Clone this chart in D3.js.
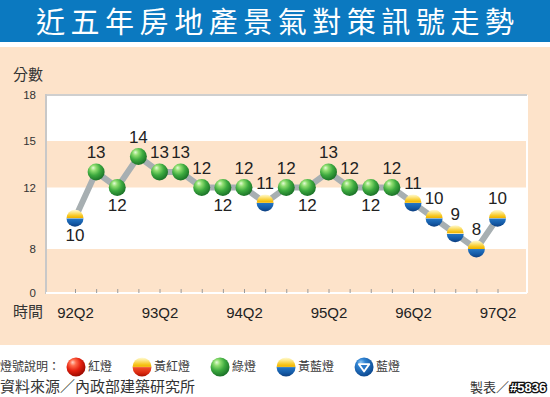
<!DOCTYPE html>
<html><head><meta charset="utf-8">
<script src="https://cdn.jsdelivr.net/npm/d3@7"></script>
<style>
html,body{margin:0;padding:0;background:#fff;}
svg{display:block;}
</style></head>
<body>
<script>
// ---- data ----
const title = '近五年房地產景氣對策訊號走勢';
const quarters = ['92Q2','92Q3','92Q4','93Q1','93Q2','93Q3','93Q4','94Q1','94Q2','94Q3','94Q4',
                  '95Q1','95Q2','95Q3','95Q4','96Q1','96Q2','96Q3','96Q4','97Q1','97Q2'];
const scores  = [10,13,12,14,13,13,12,12,12,11,12,12,13,12,12,12,11,10,9,8,10];
const signals = ['yb','g','g','g','g','g','g','g','g','yb','g','g','g','g','g','g','yb','yb','yb','yb','yb'];
const labelSide = ['below','above','below','above','above','above','above','below','above','above','above',
                   'below','above','above','below','above','above','above','above','above','above'];
const yTicks = [0,8,12,15,18];
const xLabelQuarters = ['92Q2','93Q2','94Q2','95Q2','96Q2','97Q2'];
const shadedBands = [[12,15],[0,8]];
const legendNames = ['紅燈','黃紅燈','綠燈','黃藍燈','藍燈'];
const legendTypes = ['r','yr','g','yb','b'];

const W = 550, H = 397;
const CJK = '"Noto Sans CJK TC","Noto Sans CJK SC",sans-serif';
const LAT = '"Liberation Sans",Arial,sans-serif';

const svg = d3.select('body').append('svg').attr('width', W).attr('height', H);
const defs = svg.append('defs');

function radial(id, stops){
  const g = defs.append('radialGradient').attr('id', id).attr('cx','40%').attr('cy','35%').attr('r','65%').attr('fx','32%').attr('fy','25%');
  stops.forEach(s => g.append('stop').attr('offset', s[0]).attr('stop-color', s[1]));
}
function linear(id, stops){
  const g = defs.append('linearGradient').attr('id', id).attr('x1',0).attr('y1',0).attr('x2',0).attr('y2',1);
  stops.forEach(s => g.append('stop').attr('offset', s[0]).attr('stop-color', s[1]));
}
radial('gG', [[0,'#e6fbd8'],[0.25,'#8fde70'],[0.6,'#3daa3f'],[1,'#1b7328']]);
radial('gR', [[0,'#ffd2c4'],[0.25,'#ff6a4a'],[0.6,'#e4200f'],[1,'#9c0a00']]);
radial('gB', [[0,'#8cc4f2'],[0.35,'#2e82d2'],[1,'#0d4a92']]);
linear('gYB', [[0,'#fffbd8'],[0.15,'#fde88a'],[0.35,'#f7c824'],[0.47,'#f1b400'],[0.5,'#fff4cc'],[0.53,'#2475c4'],[0.8,'#145aa6'],[1,'#0e3f80']]);
linear('gYR', [[0,'#fffbd8'],[0.15,'#fde88a'],[0.35,'#f7c824'],[0.47,'#f1b400'],[0.5,'#fff0cc'],[0.53,'#f0502a'],[0.8,'#dc2a10'],[1,'#a81200']]);
const fillOf = {g:'url(#gG)', r:'url(#gR)', b:'url(#gB)', yb:'url(#gYB)', yr:'url(#gYR)'};

function ball(sel, type, r){
  sel.append('circle').attr('r', r).attr('fill', fillOf[type]);
  if (type === 'b') {
    const t = r*0.55;
    sel.append('path').attr('d', `M${-t},${-t*0.55}L${t},${-t*0.55}L0,${t*0.85}Z`)
      .attr('fill','#2a78c8').attr('stroke','#fff').attr('stroke-width',1.8).attr('stroke-linejoin','round');
  }
}

// ---- background ----
svg.append('rect').attr('x',0).attr('y',0).attr('width',W).attr('height',42).attr('fill','#0b79c0');
svg.append('rect').attr('x',0).attr('y',47).attr('width',W).attr('height',298).attr('fill','#fde3ca');

svg.append('text').attr('x',36).attr('y',33).attr('fill','#fff')
  .attr('textLength',478).attr('lengthAdjust','spacing')
  .style('font-family',CJK).style('font-size','29px')
  .text(title);

// ---- scales ----
const x = d3.scalePoint().domain(quarters).range([75, 497.5]);
const y = d3.scaleLinear().domain([0,8,12,15,18]).range([293,249,187.5,141,95]);
const plotL = 46, plotR = 527;

// plot area
svg.append('rect').attr('x',plotL).attr('y',y(18)).attr('width',plotR-plotL).attr('height',y(0)-y(18)).attr('fill','#fff');
svg.selectAll('rect.band').data(shadedBands).join('rect').attr('class','band')
  .attr('x',plotL).attr('width',plotR-plotL)
  .attr('y',d=>y(d[1])).attr('height',d=>y(d[0])-y(d[1])).attr('fill','#fde3ca');
svg.append('line').attr('x1',plotR).attr('x2',plotR).attr('y1',y(18)).attr('y2',y(0)).attr('stroke','#fff').attr('stroke-width',2);
svg.append('line').attr('x1',plotL).attr('x2',plotR).attr('y1',y(18)).attr('y2',y(18)).attr('stroke','#cfcfcf').attr('stroke-width',2);
svg.append('line').attr('x1',plotL).attr('x2',plotL).attr('y1',y(18)-1).attr('y2',y(0)+1).attr('stroke','#c8c8c8').attr('stroke-width',2);

// y axis
const ya = svg.append('g').attr('transform',`translate(${plotL-1},0)`)
  .call(d3.axisLeft(y).tickValues(yTicks).tickSize(0).tickPadding(9).tickFormat(d3.format('d')));
ya.select('.domain').remove();
ya.selectAll('text').style('font-family',LAT).style('font-size','11.5px').attr('fill','#333');

// x axis
const xa = svg.append('g').attr('transform',`translate(0,${y(0)})`)
  .call(d3.axisBottom(x).tickSize(-4).tickPadding(14).tickFormat(d => xLabelQuarters.includes(d) ? d : ''));
xa.select('.domain').attr('d',`M${plotL},0H${plotR}`).attr('stroke','#fff').attr('stroke-width',2);
xa.selectAll('.tick line').attr('stroke','#9a9a9a');
xa.selectAll('text').style('font-family',LAT).style('font-size','15px').attr('fill','#222');

// axis titles
svg.append('text').attr('x',13).attr('y',80).style('font-family',CJK).style('font-size','15px').attr('fill','#333').text('分數');
svg.append('text').attr('x',13).attr('y',317).style('font-family',CJK).style('font-size','15px').attr('fill','#333').text('時間');

// line
const pts = quarters.map((q,i)=>({q, v:scores[i], s:signals[i], side:labelSide[i]}));
svg.append('path').datum(pts)
  .attr('d', d3.line().x(d=>x(d.q)).y(d=>y(d.v)))
  .attr('fill','none').attr('stroke','#a7afb2').attr('stroke-width',6).attr('stroke-linejoin','round');

// balls
svg.selectAll('g.pt').data(pts).join('g').attr('class','pt')
  .attr('transform', d=>`translate(${x(d.q)},${y(d.v)})`)
  .each(function(d){ ball(d3.select(this), d.s, 8.5); });

// value labels
svg.selectAll('text.val').data(pts).join('text').attr('class','val')
  .attr('x', d=>x(d.q))
  .attr('y', d=> d.side==='above' ? y(d.v)-20+6 : y(d.v)+17+6)
  .attr('text-anchor','middle')
  .style('font-family',LAT).style('font-size','17px').attr('fill','#222')
  .text(d=>d.v);

// legend
const lg = svg.append('g');
const lt = lg.append('text').attr('x',0).attr('y',371).style('font-family',CJK).style('font-size','12px').attr('fill','#3a3a3a').text('燈號說明：');
let cx = lt.node().getComputedTextLength() + 16;
legendNames.forEach((name,i)=>{
  const g = lg.append('g').attr('transform',`translate(${cx},367)`);
  ball(g, legendTypes[i], 9.5);
  const t = lg.append('text').attr('x',cx+12).attr('y',371).style('font-family',CJK).style('font-size','12px').attr('fill','#3a3a3a').text(name);
  cx = cx + 12 + t.node().getComputedTextLength() + 30;
});

// source
svg.append('text').attr('x',0).attr('y',392).style('font-family',CJK).style('font-size','15px').attr('fill','#333').text('資料來源／內政部建築研究所');
svg.append('text').attr('x',470).attr('y',392).style('font-family',CJK).style('font-size','13px').attr('fill','#333').text('製表／');
svg.append('text').attr('x',510).attr('y',392).style('font-family',LAT).style('font-size','13px').style('font-weight','bold')
  .attr('fill','#fff').attr('stroke','#111').attr('stroke-width',2.6).style('paint-order','stroke').text('#5836');
</script>
</body></html>
